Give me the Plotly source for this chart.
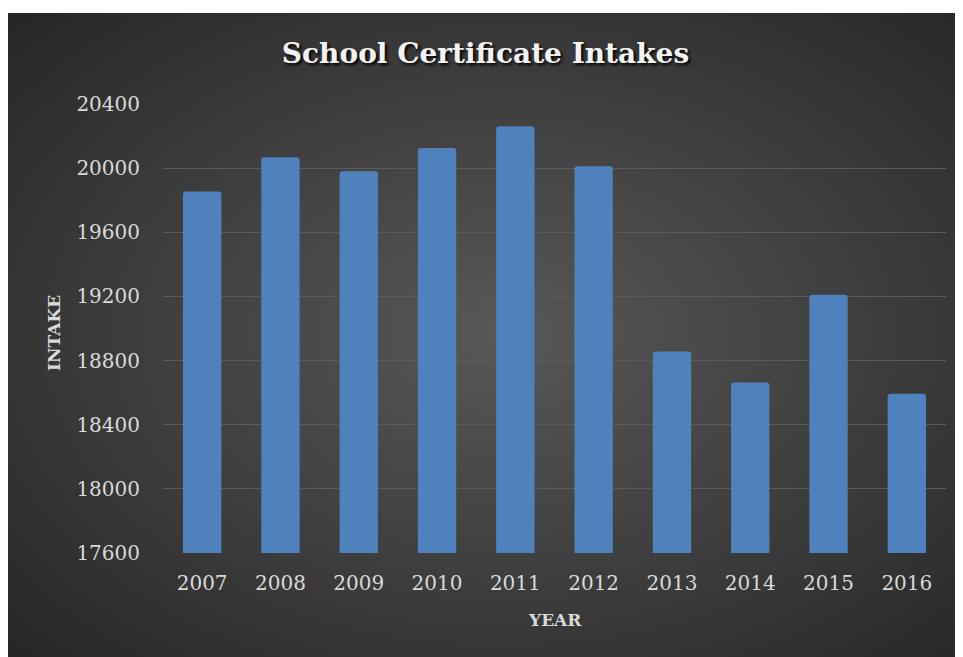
import base64
import plotly.graph_objects as go

years = ["2007", "2008", "2009", "2010", "2011", "2012", "2013", "2014", "2015", "2016"]
intake = [19855, 20068, 19981, 20125, 20262, 20012, 18856, 18663, 19210, 18593]
y_ticks = [17600, 18000, 18400, 18800, 19200, 19600, 20000, 20400]

# page has 8px body margin, so figure is 955x649 to fill the 963x657 window
W, H = 955, 649
L, R, T, B = 155, 17, 96, 104
pw, ph = W - L - R, H - T - B

svg = ("<svg xmlns='http://www.w3.org/2000/svg' width='955' height='644' preserveAspectRatio='none'>"
       "<defs><radialGradient id='g' cx='52%' cy='50%' r='72%'>"
       "<stop offset='0' stop-color='#585858'/><stop offset='1' stop-color='#262626'/>"
       "</radialGradient></defs><rect width='100%' height='100%' fill='url(#g)'/></svg>")
src = "data:image/svg+xml;base64," + base64.b64encode(svg.encode()).decode()

font = "DejaVu Serif"
txt = "#d9d9d9"

fig = go.Figure(go.Bar(
    x=years, y=intake,
    marker=dict(color="#4f81bd", cornerradius=3, line=dict(width=0)),
    width=0.49,
))

fig.update_layout(
    width=W, height=H,
    margin=dict(l=L, r=R, t=T, b=B),
    paper_bgcolor="white",
    plot_bgcolor="rgba(0,0,0,0)",
    showlegend=False,
    images=[dict(source=src, xref="paper", yref="paper",
                 x=(0 - L) / pw, y=(H - B - 5) / ph,
                 sizex=W / pw, sizey=(H - 5) / ph,
                 sizing="stretch", xanchor="left", yanchor="top", layer="below")],
    title=dict(text="<b>School Certificate Intakes</b>", x=0.5, xanchor="center",
               xref="container", y=1 - 45 / H, yanchor="middle", yref="container",
               font=dict(family=font, size=28, color="#f2f2f2",
                         shadow="2px 2px 3px #000000")),
    font=dict(family=font, color=txt),
    annotations=[
        dict(text="<b>YEAR</b>", xref="paper", yref="paper", x=0.5, y=(H - B - 612) / ph,
             xanchor="center", yanchor="middle", showarrow=False,
             font=dict(family=font, size=17, color=txt)),
        dict(text="<b>INTAKE</b>", xref="paper", yref="paper", x=(46 - L) / pw, y=(H - B - 325) / ph,
             xanchor="center", yanchor="middle", showarrow=False, textangle=-90,
             font=dict(family=font, size=17, color=txt)),
    ],
)

fig.update_xaxes(
    showgrid=False, showline=False, ticks="",
    tickfont=dict(size=20, color=txt), ticklabelstandoff=16,
)
fig.update_yaxes(
    range=[17600, 20400], tickvals=y_ticks, ticktext=[str(v) for v in y_ticks],
    showgrid=True, gridcolor="#5a5a5a", gridwidth=1.2, zeroline=False, showline=False,
    tickfont=dict(size=20, color=txt), ticklabelstandoff=22,
)

fig.write_html("out.html")
